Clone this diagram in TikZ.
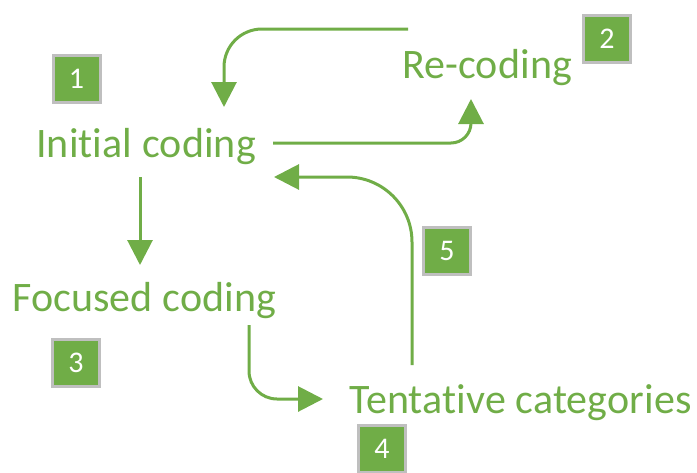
\documentclass[tikz,border=0pt]{standalone}
\usepackage{fontspec}
\setmainfont{Carlito}[Ligatures={NoCommon}, LetterSpace=0.3]
\newfontfamily\numfont{Carlito}
\usetikzlibrary{arrows.meta}
\definecolor{cgreen}{HTML}{70AD47}
\definecolor{cgray}{HTML}{BFBFBF}
\tikzset{
  label text/.style={anchor=base west, inner sep=0pt, text=cgreen, font=\fontsize{42}{50}\selectfont},
  numbox/.style={draw=cgray, line width=3pt, fill=cgreen, minimum size=47pt, inner sep=0pt, text=white, font=\numfont\fontsize{30}{36}\selectfont},
  flow/.style={draw=cgreen, line width=3pt, -{Triangle[length=25pt,width=25pt]}}
}
\begin{document}
\begin{tikzpicture}[x=1pt,y=-1pt]
\useasboundingbox (0,0) rectangle (697,472);
% texts
\node[label text] (init) at (36,157) {Initial coding};
\node[label text] (recode) at (402,78) {Re-coding};
\node[label text] (focus) at (12,311) {Focused coding};
\node[label text] (tent) at (349,413) {Tentative categories};
% number boxes
\node[numbox] (n1) at (76.5,78.5) {1};
\node[numbox] (n2) at (607,38.5) {2};
\node[numbox] (n3) at (76,363) {3};
\node[numbox] (n4) at (382,449) {4};
\node[numbox] (n5) at (447,251) {5};
% connector end points
\coordinate (a1s) at (408,29);
\coordinate (a1e) at (224,107);
\coordinate (a2s) at (273,143);
\coordinate (a2e) at (471,99);
\coordinate (a3s) at (412,365);
\coordinate (a3e) at (274,177);
\coordinate (a4s) at (140,177);
\coordinate (a4e) at (140,265);
\coordinate (a5s) at (249,325);
\coordinate (a5e) at (323,399);
% connectors
\draw[flow, rounded corners=38pt] (a1s) -| (a1e);
\draw[flow, rounded corners=20pt] (a2s) -| (a2e);
\draw[flow, rounded corners=65pt] (a3s) |- (a3e);
\draw[flow] (a4s) -- (a4e);
\draw[flow, rounded corners=28pt] (a5s) |- (a5e);
\end{tikzpicture}
\end{document}
